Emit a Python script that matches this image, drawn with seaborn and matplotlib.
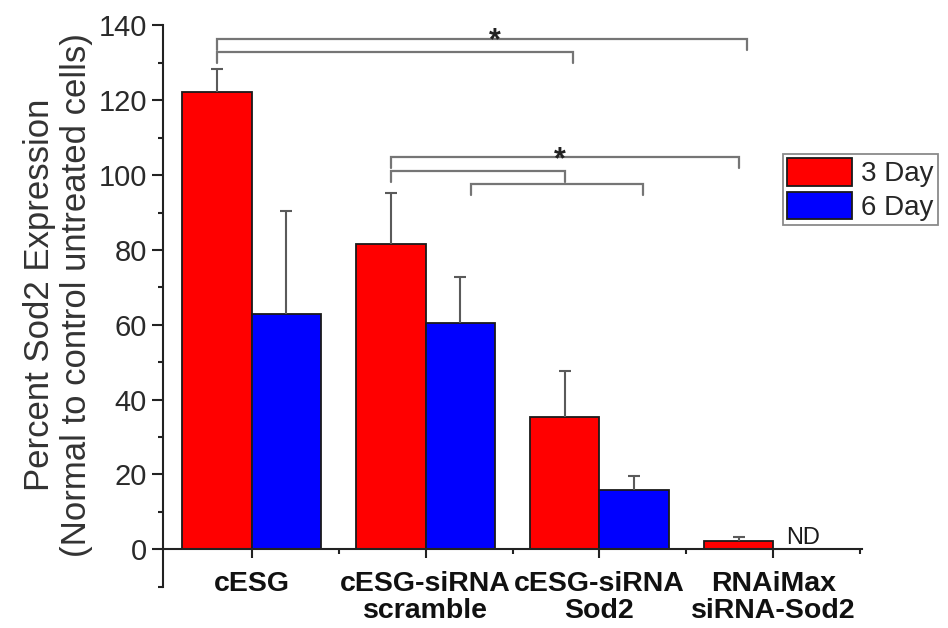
import matplotlib
matplotlib.use('Agg')
import matplotlib.pyplot as plt
from matplotlib.ticker import MultipleLocator, FixedLocator
import seaborn as sns
import pandas as pd
import numpy as np

# data
groups = ['cESG', 'cESG-siRNA\nscramble', 'cESG-siRNA\nSod2', 'RNAiMax\nsiRNA-Sod2']
days = ['3 Day', '6 Day']
day3_mean = [122.1, 81.6, 35.4, 2.2]
day3_err = [6.3, 13.7, 12.2, 1.1]
day6_mean = [63.0, 60.6, 15.8, np.nan]   # ND for RNAiMax
day6_err = [27.4, 12.1, 3.7, np.nan]

# significance brackets: (from, to, level) in category units / percent
brackets = [(-0.2, 2.85, 136.3), (-0.2, 1.85, 132.8),
            (0.8, 2.8, 104.7), (0.8, 1.8, 101.0), (1.26, 2.25, 97.6)]
stars = [(1.4, 136.3), (1.77, 104.7)]

df = pd.DataFrame({
    'group': groups * 2,
    'day': [days[0]] * 4 + [days[1]] * 4,
    'value': day3_mean + day6_mean,
})
errs = {(days[0], i): e for i, e in enumerate(day3_err)}
errs.update({(days[1], i): e for i, e in enumerate(day6_err)})

sns.set_style('white')
plt.rcParams['font.family'] = ['Liberation Sans', 'DejaVu Sans']

fig = plt.figure(figsize=(9.48, 6.28), dpi=100)
ax = fig.add_axes([163 / 948, 1 - 586.7 / 628, 699 / 948, 561.3 / 628])

sns.barplot(data=df, x='group', y='value', hue='day', order=groups, hue_order=days,
            palette=['#ff0000', '#0000ff'], errorbar=None, width=0.8,
            edgecolor='#1a1a1a', linewidth=1.3, saturation=1, ax=ax, zorder=2)

# upper-only error bars on each bar
for day, cont in zip(days, ax.containers):
    for rect in cont.patches:
        h = rect.get_height()
        if not np.isfinite(h):
            continue
        xc = rect.get_x() + rect.get_width() / 2
        e = errs[(day, int(round(xc)))]
        ax.vlines(xc, h, h + e, color='#5a5a5a', lw=1.5, zorder=3)
        ax.plot([xc], [h + e], marker='_', ms=8.6, mew=1.5, color='#5a5a5a', zorder=3)

for x1, x2, lv in brackets:
    ax.plot([x1, x1, x2, x2], [lv - 2.9, lv, lv, lv - 2.9], color='#757575', lw=1.6,
            solid_joinstyle='miter', zorder=3)
for x, lv in stars:
    ax.annotate('*', (x, lv), xytext=(0, -7.5), textcoords='offset points',
                ha='center', va='baseline', fontsize=22, fontweight='bold', color='#222222')

ax.text(3.17, 1.3, 'ND', ha='center', va='baseline', fontsize=17, color='#1a1a1a')

ax.set_xlim(-0.51, 3.51)
ax.set_ylim(-10, 140)
ax.yaxis.set_major_locator(FixedLocator(range(0, 141, 20)))
ax.yaxis.set_minor_locator(MultipleLocator(10))
ax.xaxis.set_minor_locator(FixedLocator([0.5, 1.5, 2.5, 3.5]))

for s in ['top', 'right']:
    ax.spines[s].set_visible(False)
ax.spines['bottom'].set_position(('data', 0))
for s in ['left', 'bottom']:
    ax.spines[s].set_color('#222222')
    ax.spines[s].set_linewidth(1.5)

ax.tick_params(axis='y', which='major', direction='out', length=8, width=1.5,
               color='#222222', pad=3.6, labelsize=21, labelcolor='#2a2a2a', left=True)
ax.tick_params(axis='y', which='minor', direction='out', length=3.5, width=1.5,
               color='#222222', left=True)
ax.tick_params(axis='x', which='major', direction='out', length=6.5, width=1.5,
               color='#222222', pad=9, labelsize=20.5, labelcolor='#111111', bottom=True)
ax.tick_params(axis='x', which='minor', direction='out', length=3.5, width=1.5,
               color='#222222', bottom=True)
for lab in ax.get_xticklabels():
    lab.set_fontweight('bold')
    lab.set_linespacing(1.05)

ax.set_xlabel('')
ax.set_ylabel('Percent Sod2 Expression\n(Normal to control untreated cells)',
              fontsize=25, color='#333333', linespacing=1.15, va='center')
ax.yaxis.set_label_coords(-0.150, 0.52)

handles = [c.patches[0] for c in ax.containers]
ax.legend(handles, days, loc='upper left',
          bbox_to_anchor=(783 / 948, 1 - 154 / 628),
          bbox_transform=fig.transFigure, fontsize=20, frameon=True, fancybox=False,
          edgecolor='#8a8a8a', framealpha=1, borderpad=0.15, borderaxespad=0,
          handlelength=2.34, handleheight=1.15, handletextpad=0.32, labelspacing=0.15)
ax.get_legend().get_frame().set_linewidth(1.3)

fig.savefig('out.png', dpi=100)
